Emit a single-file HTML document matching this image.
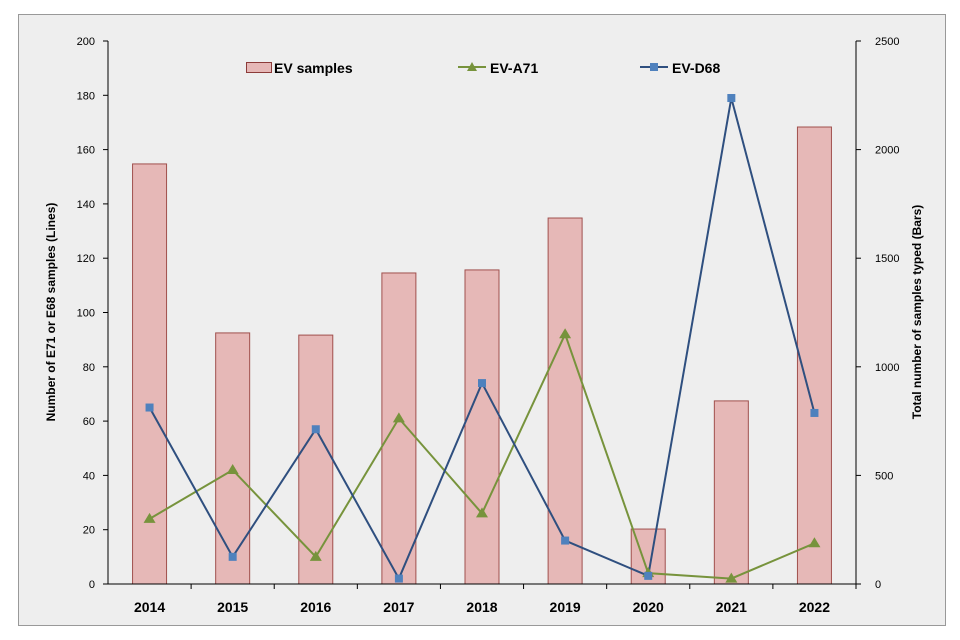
<!DOCTYPE html>
<html><head><meta charset="utf-8"><style>
html,body{margin:0;padding:0;background:#fff;}
svg{display:block;font-family:"Liberation Sans",sans-serif;}
</style></head><body>
<svg id="chart" width="960" height="640" viewBox="0 0 960 640">
<rect x="18.5" y="14.5" width="927" height="611" fill="#eeeeee" stroke="#999"/>
<g id="bars"></g><g id="axes"></g><g id="lines"></g>
<g>
<rect x="246.5" y="62.5" width="25" height="10" fill="#e6b8b7" stroke="#8c3b39"/>
<text x="274" y="73" font-size="14" font-weight="bold">EV samples</text>
<line x1="458" y1="67" x2="486" y2="67" stroke="#77933c" stroke-width="2"/>
<polygon points="472,62 477,71 467,71" fill="#77933c"/>
<text x="490" y="73" font-size="14" font-weight="bold">EV-A71</text>
<line x1="640" y1="67" x2="668" y2="67" stroke="#2f4f7f" stroke-width="2"/>
<rect x="650" y="63" width="8" height="8" fill="#4f81bd"/>
<text x="672" y="73" font-size="14" font-weight="bold">EV-D68</text>
</g>
<text transform="translate(55,312) rotate(-90)" text-anchor="middle" font-size="12" font-weight="bold">Number of E71 or E68 samples (Lines)</text>
<text transform="translate(921,312) rotate(-90)" text-anchor="middle" font-size="12" font-weight="bold">Total number of samples typed (Bars)</text>
</svg>
<script>
const categories=["2014","2015","2016","2017","2018","2019","2020","2021","2022"];
const evSamples=[1934,1156,1146,1432,1446,1685,253,843,2104];
const a71=[24,42,10,61,26,92,4,2,15];
const d68=[65,10,57,2,74,16,3,179,63];
const leftTicks=[0,20,40,60,80,100,120,140,160,180,200];
const rightTicks=[0,500,1000,1500,2000,2500];
const NS="http://www.w3.org/2000/svg";
const X0=108,X1=856,Y0=584,Y1=41;
const step=(X1-X0)/categories.length;
const xc=i=>X0+step*(i+0.5);
const yl=v=>Y0-(v/200)*(Y0-Y1);
const yr=v=>Y0-(v/2500)*(Y0-Y1);
function mk(tag,attrs,parent){const e=document.createElementNS(NS,tag);for(const k in attrs)e.setAttribute(k,attrs[k]);parent.appendChild(e);return e;}
const bars=document.getElementById('bars'),axes=document.getElementById('axes'),lines=document.getElementById('lines');
evSamples.forEach((v,i)=>{const r=mk('rect',{x:xc(i)-17,y:yr(v),width:34,height:Y0-yr(v),fill:'#e6b8b7',stroke:'#a0504d','stroke-width':1},bars);

});
const la=mk('line',{x1:X0,y1:Y1,x2:X0,y2:Y0,stroke:'#000'},axes);

const ra=mk('line',{x1:X1,y1:Y1,x2:X1,y2:Y0,stroke:'#000'},axes);

const xa=mk('line',{x1:X0,y1:Y0,x2:X1,y2:Y0,stroke:'#000'},axes);

leftTicks.forEach(t=>{mk('line',{x1:X0-5,y1:yl(t),x2:X0,y2:yl(t),stroke:'#000'},axes);
const tx=mk('text',{x:X0-13,y:yl(t)+4,'text-anchor':'end','font-size':11},axes);tx.textContent=t;
});
rightTicks.forEach(t=>{mk('line',{x1:X1,y1:yr(t),x2:X1+5,y2:yr(t),stroke:'#000'},axes);
const tx=mk('text',{x:X1+19,y:yr(t)+4,'font-size':11},axes);tx.textContent=t;
});
categories.forEach((c,i)=>{mk('line',{x1:X0+step*(i+1),y1:Y0,x2:X0+step*(i+1),y2:Y0+5,stroke:'#000'},axes);
const tx=mk('text',{x:xc(i),y:Y0+28,'text-anchor':'middle','font-size':14,'font-weight':'bold'},axes);tx.textContent=c;
});
const pa=mk('polyline',{points:a71.map((v,i)=>xc(i)+','+yl(v)).join(' '),fill:'none',stroke:'#77933c','stroke-width':2},lines);

const pd=mk('polyline',{points:d68.map((v,i)=>xc(i)+','+yl(v)).join(' '),fill:'none',stroke:'#2f4f7f','stroke-width':2},lines);

a71.forEach((v,i)=>{const x=xc(i),y=yl(v);const p=mk('polygon',{points:`${x},${y-6} ${x+6},${y+4} ${x-6},${y+4}`,fill:'#77933c'},lines);
});
d68.forEach((v,i)=>{const p=mk('rect',{x:xc(i)-4,y:yl(v)-4,width:8,height:8,fill:'#4f81bd'},lines);
});
</script>
</body></html>
